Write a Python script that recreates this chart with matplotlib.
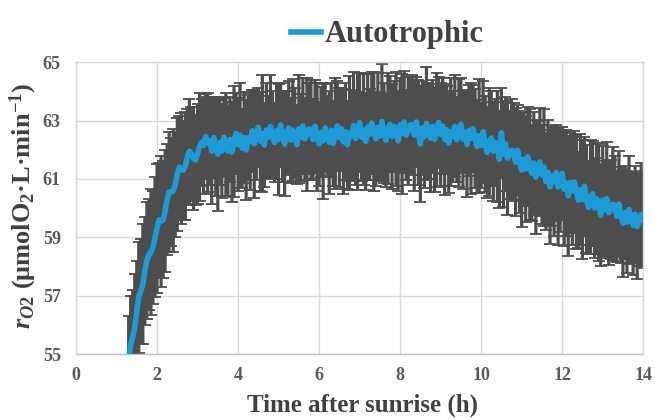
import numpy as np
import matplotlib
matplotlib.use("Agg")
import matplotlib.pyplot as plt

# ---------------- data ----------------
series_name = "Autotrophic"
time_h = np.round(np.arange(1.30, 14.001, 0.05), 2)

r_o2_mean = [
    54.80, 55.30, 55.60, 55.90, 56.45, 56.95, 57.15, 57.40, 57.85, 58.20,
    58.40, 58.50, 58.65, 59.00, 59.30, 59.60, 59.55, 59.60, 59.90, 60.30,
    60.55, 60.55, 60.60, 60.80, 61.15, 61.40, 61.35, 61.30, 61.45, 61.75,
    61.95, 61.85, 61.70, 61.65, 61.85, 62.10, 62.25, 62.15, 62.45, 62.25,
    62.30, 61.95, 62.42, 62.07, 61.85, 62.25, 61.95, 62.43, 62.18, 61.95,
    62.35, 61.92, 62.29, 62.56, 62.18, 62.50, 62.05, 62.42, 61.99, 62.41,
    62.28, 62.65, 62.20, 62.47, 62.77, 62.29, 62.55, 62.16, 62.67, 62.43,
    62.80, 62.50, 62.25, 62.65, 62.35, 62.85, 62.45, 62.20, 62.60, 62.75,
    62.32, 62.67, 62.57, 62.17, 62.72, 62.42, 62.82, 62.37, 62.52, 62.72,
    62.70, 62.35, 62.80, 62.45, 62.20, 62.60, 62.30, 62.75, 62.50, 62.25,
    62.67, 62.22, 62.57, 62.82, 62.42, 62.72, 62.27, 62.62, 62.17, 62.57,
    62.48, 62.83, 62.38, 62.63, 62.93, 62.43, 62.68, 62.28, 62.78, 62.53,
    62.92, 62.62, 62.37, 62.77, 62.47, 62.97, 62.57, 62.32, 62.72, 62.87,
    62.45, 62.80, 62.70, 62.30, 62.85, 62.55, 62.95, 62.50, 62.65, 62.85,
    62.85, 62.50, 62.95, 62.60, 62.20, 62.75, 62.45, 62.90, 62.65, 62.40,
    62.80, 62.35, 62.69, 62.93, 62.52, 62.81, 62.35, 62.69, 62.23, 62.62,
    62.46, 62.80, 62.34, 62.58, 62.87, 62.36, 62.60, 62.18, 62.66, 62.39,
    62.72, 62.39, 62.11, 62.48, 62.15, 62.62, 62.19, 61.91, 62.28, 62.40,
    61.95, 62.25, 62.11, 61.67, 62.58, 61.84, 62.20, 61.71, 61.82, 61.98,
    61.95, 61.57, 61.98, 61.59, 61.30, 61.67, 61.34, 61.76, 61.48, 61.20,
    61.55, 61.06, 61.37, 61.58, 61.14, 61.40, 60.91, 61.22, 60.73, 61.10,
    60.90, 61.21, 60.72, 60.93, 61.19, 60.65, 60.86, 60.42, 60.88, 60.59,
    60.90, 60.56, 60.27, 60.63, 60.29, 60.75, 60.31, 60.02, 60.38, 60.49,
    60.00, 60.32, 60.19, 59.76, 60.28, 59.95, 60.32, 59.84, 59.96, 60.13,
    60.10, 59.72, 60.14, 59.76, 59.48, 59.85, 59.52, 59.95, 59.68, 59.41,
    59.79, 59.37, 59.60, 59.78, 59.61,
]

r_o2_err = [
    1.50, 1.70, 1.60, 1.85, 1.75, 1.90, 1.80, 2.05, 1.85, 2.00,
    1.90, 2.15, 1.95, 2.05, 2.20, 1.95, 2.25, 2.00, 2.10, 1.90,
    2.05, 1.85, 2.10, 1.80, 1.95, 1.75, 1.90, 1.70, 1.85, 1.65,
    1.80, 1.60, 1.75, 1.55, 1.70, 1.85, 1.50, 1.65, 1.45, 1.70,
    1.50, 1.80, 1.40, 1.65, 1.95, 1.45, 1.60, 1.35, 1.75, 1.55,
    1.45, 1.70, 1.90, 1.40, 1.60, 1.80, 1.35, 1.55, 1.70, 1.45,
    1.65, 1.40, 1.85, 1.50, 1.35, 1.70, 2.00, 1.45, 1.60, 1.40,
    1.75, 1.50, 1.35, 1.65, 1.90, 1.45, 1.55, 1.80, 1.40, 1.60,
    1.45, 1.75, 1.55, 1.35, 1.85, 1.50, 1.65, 1.40, 1.95, 1.55,
    1.70, 1.40, 1.60, 1.85, 1.45, 1.55, 2.00, 1.50, 1.35, 1.75,
    1.60, 1.45, 1.90, 1.55, 1.70, 1.40, 1.80, 1.65, 1.50, 1.95,
    1.55, 1.85, 1.60, 2.00, 1.70, 1.50, 1.90, 1.65, 1.80, 1.55,
    1.75, 2.05, 1.60, 1.85, 1.50, 1.95, 1.70, 1.60, 1.90, 1.65,
    1.80, 1.55, 1.95, 1.70, 1.60, 2.05, 1.75, 1.55, 1.85, 1.65,
    1.70, 1.90, 1.55, 1.80, 2.00, 1.60, 1.75, 1.95, 1.65, 1.85,
    1.60, 1.80, 1.95, 1.55, 1.75, 1.65, 1.90, 1.50, 1.70, 1.85,
    1.55, 1.75, 1.45, 1.85, 1.60, 1.70, 1.40, 1.80, 1.55, 1.90,
    1.50, 1.70, 1.60, 1.95, 1.45, 1.75, 1.65, 1.55, 1.85, 1.60,
    1.70, 1.50, 1.90, 1.65, 1.55, 1.80, 1.60, 1.95, 1.50, 1.75,
    1.65, 1.85, 1.55, 1.75, 1.95, 1.60, 1.80, 1.70, 1.90, 1.65,
    1.75, 1.95, 1.60, 1.85, 1.70, 2.00, 1.65, 1.80, 1.95, 1.70,
    1.85, 1.65, 2.00, 1.75, 1.60, 1.95, 1.80, 2.05, 1.70, 1.85,
    1.75, 1.95, 1.65, 1.90, 2.05, 1.70, 1.85, 1.60, 1.95, 1.80,
    1.70, 1.90, 2.00, 1.75, 1.85, 1.65, 1.95, 1.80, 1.70, 1.95,
    1.70, 1.55, 1.80, 1.65, 1.85, 1.60, 1.75, 1.85, 1.55, 1.70,
    1.65, 1.80, 1.60, 1.75, 1.65,
]

x_ticks = [0, 2, 4, 6, 8, 10, 12, 14]
y_ticks = [55, 57, 59, 61, 63, 65]
x_label = "Time after sunrise (h)"
y_label = r"$r_{O2}$ (μmolO$_\mathbf{2}$·L·min$^{\mathbf{-1}}$)"

# ---------------- style ----------------
plt.rcParams["font.family"] = ["Liberation Serif", "DejaVu Serif"]
plt.rcParams["font.weight"] = "bold"
plt.rcParams["mathtext.fontset"] = "custom"
plt.rcParams["mathtext.rm"] = "Liberation Serif:bold"
plt.rcParams["mathtext.it"] = "Liberation Serif:italic:bold"
plt.rcParams["mathtext.bf"] = "Liberation Serif:bold"

blue = "#1E9AD6"
gray_bar = "#4D4D4D"
grid_c = "#D9D9D9"
text_c = "#404040"
tick_c = "#595959"

fig = plt.figure(figsize=(6.55, 4.2), dpi=100)
ax = fig.add_axes([0.116, 0.157, 0.866, 0.695])

eb = ax.errorbar(time_h, r_o2_mean, yerr=r_o2_err, fmt="none", ecolor=gray_bar,
                 elinewidth=2.3, capsize=4.0, capthick=1.3, zorder=2)
for coll in eb.lines[2]:
    coll.set_snap(False)
ax.plot(time_h, r_o2_mean, color=blue, lw=4.0, zorder=3, label=series_name,
        solid_joinstyle="round")

ax.set_xlim(0, 14)
ax.set_ylim(55, 65)
ax.set_xticks(x_ticks)
ax.set_yticks(y_ticks)
ax.grid(True, color=grid_c, lw=1.0, zorder=0)
ax.set_axisbelow(True)
for s in ax.spines.values():
    s.set_color(grid_c)
    s.set_linewidth(1.0)
ax.spines["bottom"].set_color("#BFBFBF")
ax.tick_params(length=0, labelsize=13, colors=tick_c)
ax.tick_params(axis="x", pad=9)
ax.tick_params(axis="y", pad=11)
for lab in ax.get_xticklabels() + ax.get_yticklabels():
    lab.set_fontweight("bold")

ax.set_xlabel(x_label, fontsize=18, color=text_c, fontweight="bold")
ax.set_ylabel(y_label, fontsize=19, color=text_c, fontweight="bold")
ax.xaxis.set_label_coords(0.506, -0.135)
ax.yaxis.set_label_coords(-0.066, 0.507)

leg = fig.legend(loc="center", bbox_to_anchor=(0.591, 0.917), frameon=False,
                 handlelength=1.0, handletextpad=0.1,
                 prop={"weight": "bold", "size": 22})
for t in leg.get_texts():
    t.set_color(text_c)

fig.savefig("out.png", dpi=100)
